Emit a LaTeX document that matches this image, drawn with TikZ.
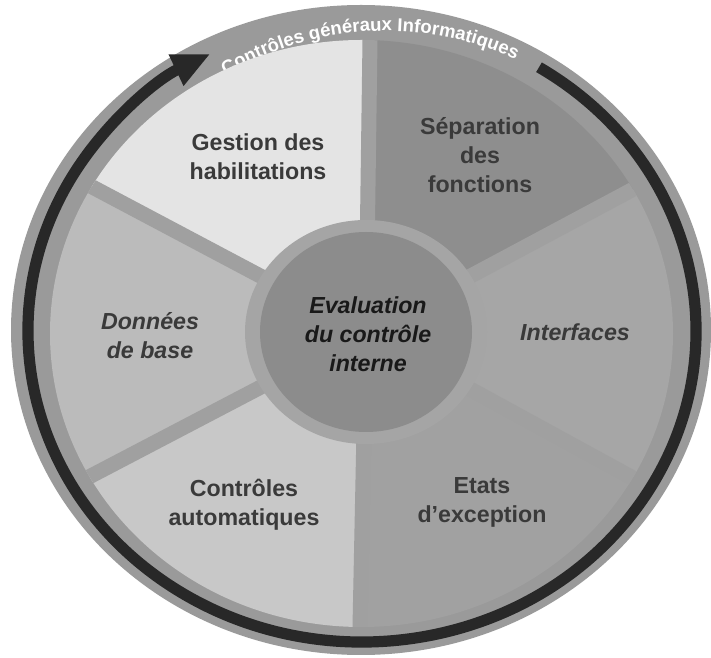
\documentclass[tikz,border=0pt]{standalone}
\usepackage{fontspec}
\setmainfont{Liberation Sans}
\usepackage{tikz}
\usetikzlibrary{
    arrows.meta,
    calc,
    decorations.text
}
\definecolor{Cring}{RGB}{154, 154, 154}
\definecolor{Cband}{RGB}{40, 40, 40}
\definecolor{Cgap}{RGB}{160, 160, 160}
\definecolor{Cgest}{RGB}{228, 228, 228}
\definecolor{Csep}{RGB}{142, 142, 142}
\definecolor{Cint}{RGB}{166, 166, 166}
\definecolor{Cetat}{RGB}{161, 161, 161}
\definecolor{Cauto}{RGB}{200, 200, 200}
\definecolor{Cbase}{RGB}{187, 187, 187}
\definecolor{Chub}{RGB}{140, 140, 140}
\definecolor{Chubring}{RGB}{165, 165, 165}
\definecolor{Clabel}{RGB}{58, 58, 58}
\tikzset{
    slabel/.style={
        align=center, text=Clabel, inner sep=0pt,
        font=\fontsize{16.5}{20.6}\selectfont\bfseries
    },
    ilabel/.style={
        slabel, font=\fontsize{16.5}{20.6}\selectfont\bfseries\itshape
    },
    gapline/.style={Cgap, line width=0.375cm},
    cyclearr/.style={Cband, line width=0.28cm, -{Triangle[length=0.95cm, width=0.8cm]}},
}

\begin{document}
\begin{tikzpicture}[x=0.025cm, y=0.025cm]

    \useasboundingbox (0,0) rectangle (711,658);
    \fill[white] (0,0) rectangle (711,658);

    % ── anneau extérieur ─────────────────────────────────
    \fill[Cring] (361,328) ellipse [x radius=350, y radius=325];

    % ── flèche du cycle ──────────────────────────────────
    \coordinate (ac) at (362,327);
    \draw[cyclearr] ($(ac)+(58:334 and 311)$)
        arc [start angle=58, end angle=-243, x radius=334, y radius=311];

    % ── titre courbé ─────────────────────────────────────
    \path[decorate, decoration={text along path, text align=center, text color=white,
          text={|\fontsize{13.2}{16}\selectfont\bfseries|Contrôles généraux Informatiques}}]
        ($(385,317)+(123:310)$) arc [start angle=123, end angle=63, radius=310];

    % ── secteurs ─────────────────────────────────────────
    \coordinate (O)  at (366,326);
    \coordinate (T)  at (370,618);
    \coordinate (B)  at (360,31);
    \coordinate (UL) at (98,468);
    \coordinate (LL) at (87,180);
    \coordinate (UR) at (641,473);
    \coordinate (LR) at (633,180);

    \begin{scope}
        \clip (361.5,324.5) ellipse [x radius=311.5, y radius=293.5];
        \fill[Cgest] (O) -- ($(O)!3!(T)$)  -- (-600,1300) -- ($(O)!3!(UL)$) -- cycle;
        \fill[Cbase] (O) -- ($(O)!3!(UL)$) -- (-900,326)  -- ($(O)!3!(LL)$) -- cycle;
        \fill[Cauto] (O) -- ($(O)!3!(LL)$) -- (-600,-700) -- ($(O)!3!(B)$)  -- cycle;
        \fill[Cetat] (O) -- ($(O)!3!(B)$)  -- (1300,-700) -- ($(O)!3!(LR)$) -- cycle;
        \fill[Cint]  (O) -- ($(O)!3!(LR)$) -- (1600,326)  -- ($(O)!3!(UR)$) -- cycle;
        \fill[Csep]  (O) -- ($(O)!3!(UR)$) -- (1300,1300) -- ($(O)!3!(T)$)  -- cycle;
        \foreach \p in {T,UR,LR,B,LL,UL}
            \draw[gapline] (O) -- ($(O)!3!(\p)$);
    \end{scope}

    % ── moyeu central ────────────────────────────────────
    \fill[Chubring] (O) ellipse [x radius=121, y radius=112];
    \fill[Chub] (O) ellipse [x radius=106, y radius=100];

    % ── libellés ─────────────────────────────────────────
    \node[slabel] (gestion)    at (258,501) {Gestion des\\habilitations};
    \node[slabel] (separation) at (480,503) {Séparation\\des\\fonctions};
    \node[ilabel] (interfaces) at (575,326) {Interfaces};
    \node[slabel] (etats)      at (482,156) {Etats\\d’exception};
    \node[slabel] (controles)  at (244,153) {Contrôles\\automatiques};
    \node[ilabel] (donnees)    at (150,322) {Données\\de base};
    \node[ilabel, text=black!90] (evaluation) at (368,324) {Evaluation\\du contrôle\\interne};

\end{tikzpicture}
\end{document}
